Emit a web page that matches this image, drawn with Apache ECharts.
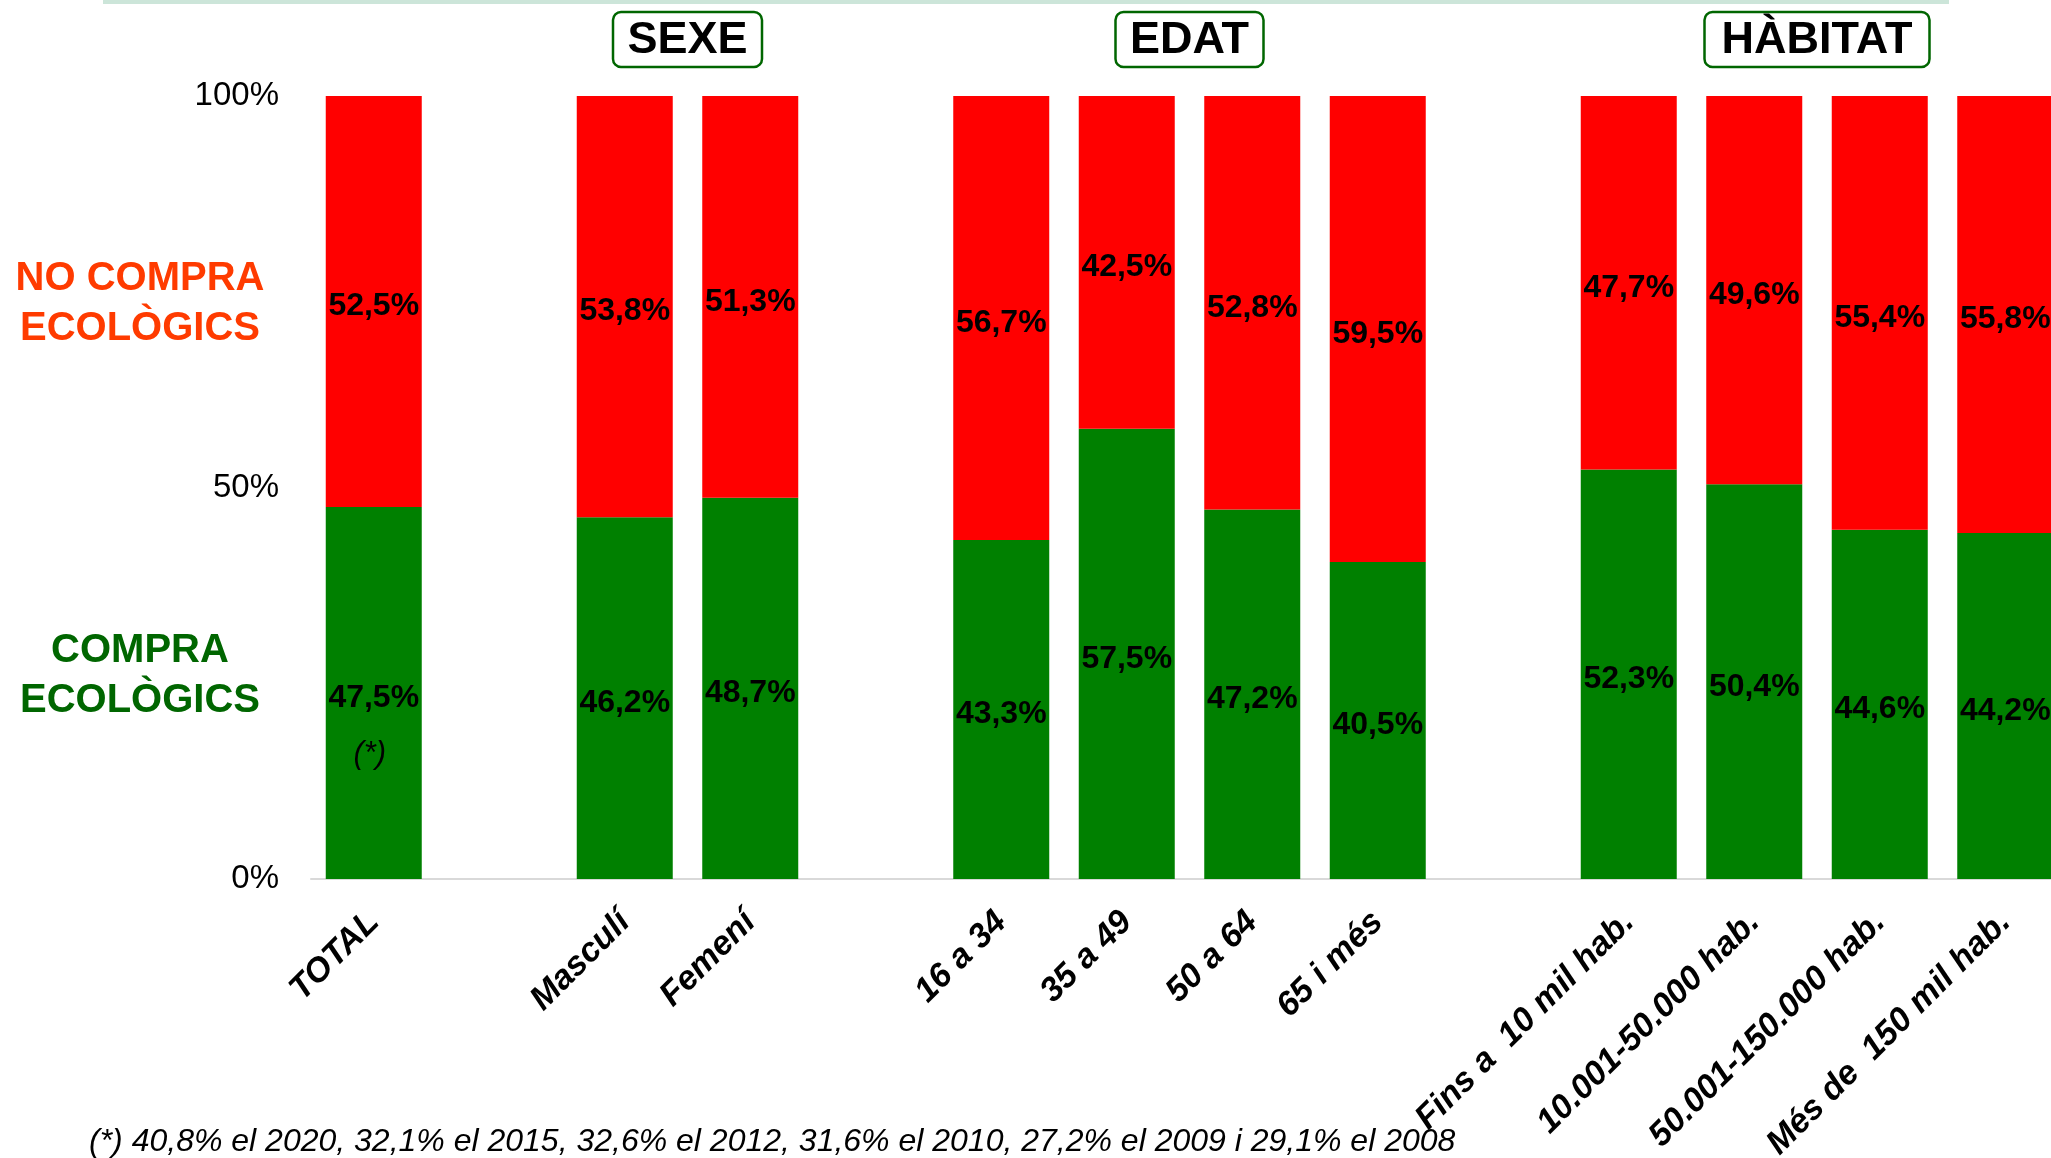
<!DOCTYPE html>
<html>
<head>
<meta charset="utf-8">
<script src="https://cdn.jsdelivr.net/npm/echarts@6/dist/echarts.min.js"></script>
<style>
  html, body { margin: 0; padding: 0; background: #fff; }
  #main { width: 2051px; height: 1158px; }
</style>
</head>
<body>
<div id="main"></div>
<script>
// categories ('' = gap between groups)
const categories = ['TOTAL', '', 'Masculí', 'Femení', '', '16 a 34', '35 a 49', '50 a 64', '65 i més', '',
  'Fins a  10 mil hab.', '10.001-50.000 hab.', '50.001-150.000 hab.', 'Més de  150 mil hab.'];
const compra = [47.5, null, 46.2, 48.7, null, 43.3, 57.5, 47.2, 40.5, null, 52.3, 50.4, 44.6, 44.2];
const noCompra = [52.5, null, 53.8, 51.3, null, 56.7, 42.5, 52.8, 59.5, null, 47.7, 49.6, 55.4, 55.8];
const yTicks = [0, 50, 100];
const groups = [
  { name: 'SEXE', from: 2, to: 3, w: 149 },
  { name: 'EDAT', from: 6, to: 7, w: 148 },
  { name: 'HÀBITAT', from: 11, to: 12, w: 225 }
];
const footnote = '(*) 40,8% el 2020, 32,1% el 2015, 32,6% el 2012, 31,6% el 2010, 27,2% el 2009 i 29,1% el 2008';

const FONT = "'Liberation Sans', Arial, sans-serif";
const pct = v => v.toFixed(1).replace('.', ',') + '%';

let compraData = compra.map((v, i) => {
  if (i === 0) {
    return {
      value: v,
      label: {
        formatter: p => '{v|' + pct(p.value) + '}\n{s|(*)}',
        offset: [0, 33]
      }
    };
  }
  return v;
});

let labelStyle = {
  show: true,
  position: 'inside',
  offset: [0, 5],
  color: '#000',
  fontFamily: FONT,
  fontWeight: 'bold',
  fontSize: 32,
  formatter: p => pct(p.value),
  rich: {
    v: { fontFamily: FONT, fontWeight: 'bold', fontSize: 32, lineHeight: 56, color: '#000' },
    s: { fontFamily: FONT, fontStyle: 'italic', fontWeight: 'normal', fontSize: 31, lineHeight: 56, color: '#000', padding: [0, 8, 0, 0] }
  }
};

let option = {
  animation: false,
  backgroundColor: '#fff',
  grid: { left: 311, right: -17, top: 96, bottom: 279, outerBoundsMode: 'none', containLabel: false },
  xAxis: {
    type: 'category',
    data: categories,
    axisLine: { lineStyle: { color: '#d9d9d9', width: 2 } },
    axisTick: { show: false },
    axisLabel: {
      interval: 0,
      rotate: 45,
      margin: 38,
      color: '#000',
      fontFamily: FONT,
      fontWeight: 'bold',
      fontStyle: 'italic',
      fontSize: 34
    }
  },
  yAxis: {
    type: 'value',
    min: yTicks[0],
    max: yTicks[yTicks.length - 1],
    interval: yTicks[1] - yTicks[0],
    splitLine: { show: false },
    axisLine: { show: false },
    axisTick: { show: false },
    axisLabel: {
      formatter: '{value}%',
      margin: 32,
      color: '#000',
      fontFamily: FONT,
      fontSize: 33
    }
  },
  series: [
    {
      name: 'COMPRA ECOLÒGICS',
      type: 'bar',
      stack: 'total',
      barWidth: 96,
      itemStyle: { color: '#008000' },
      label: labelStyle,
      data: compraData
    },
    {
      name: 'NO COMPRA ECOLÒGICS',
      type: 'bar',
      stack: 'total',
      barWidth: 96,
      itemStyle: { color: '#ff0000' },
      label: labelStyle,
      data: noCompra
    }
  ]
};

let myChart = echarts.init(document.getElementById('main'));
myChart.setOption(option);

// header boxes over the groups + side labels
let graphics = [
  { type: 'rect', shape: { x: 103, y: 0, width: 1846, height: 4 }, style: { fill: '#cce5d9' } },
  {
    type: 'text', x: 140, y: 304,
    style: {
      text: 'NO COMPRA\nECOLÒGICS', align: 'center', verticalAlign: 'middle',
      font: 'bold 40px ' + FONT, lineHeight: 50, fill: '#ff3b00'
    }
  },
  {
    type: 'text', x: 140, y: 676,
    style: {
      text: 'COMPRA\nECOLÒGICS', align: 'center', verticalAlign: 'middle',
      font: 'bold 40px ' + FONT, lineHeight: 50, fill: '#006600'
    }
  },
  {
    type: 'text', x: 89, y: 1142,
    style: {
      text: footnote, align: 'left', verticalAlign: 'middle',
      font: 'italic 32px ' + FONT, fill: '#000'
    }
  }
];
groups.forEach(g => {
  let cx = (myChart.convertToPixel({ xAxisIndex: 0 }, g.from) + myChart.convertToPixel({ xAxisIndex: 0 }, g.to)) / 2;
  graphics.push({
    type: 'rect',
    shape: { x: cx - g.w / 2, y: 12, width: g.w, height: 55, r: 8 },
    style: { fill: '#fff', stroke: '#006600', lineWidth: 2.5 }
  });
  graphics.push({
    type: 'text', x: cx, y: 41,
    style: {
      text: g.name, align: 'center', verticalAlign: 'middle',
      font: "bold 45px 'Liberation Sans Narrow', 'Arial Narrow', " + FONT, fill: '#000'
    }
  });
});
myChart.setOption({ graphic: graphics });
</script>
</body>
</html>
